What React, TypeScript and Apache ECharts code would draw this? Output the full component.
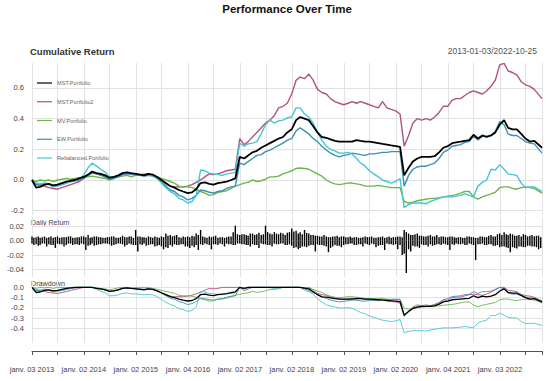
import React, { useEffect, useRef } from "react";
import * as echarts from "echarts";

// ---------- data ----------
const seriesNames = ["MST.Portfolio", "MST.Portfolio2", "MV.Portfolio", "EW.Portfolio", "Rebalanced.Portfolio"];
const seriesColors = ["#000000", "#B0527E", "#6DB54C", "#3C8FB5", "#45C6D6"];

// monthly samples, Jan 2013 .. Oct 2022 (cumulative return)
const mstPortfolio = [
  0, -0.05, -0.045, -0.03, -0.025, -0.035, -0.03, -0.02, -0.01, -0.005, 0.0, 0.01,
  0.02, 0.035, 0.055, 0.045, 0.04, 0.03, 0.015, 0.02, 0.03, 0.045, 0.05, 0.045,
  0.04, 0.035, 0.03, 0.04, 0.035, 0.02, 0.0, -0.02, -0.04, -0.05, -0.065, -0.075,
  -0.085, -0.08, -0.06, -0.02, -0.015, -0.025, -0.03, -0.02, -0.015, -0.01, 0.0, 0.01,
  0.15, 0.14, 0.16, 0.18, 0.19, 0.21, 0.225, 0.24, 0.255, 0.27, 0.28, 0.31,
  0.33, 0.39, 0.41, 0.40, 0.39, 0.35, 0.31, 0.28, 0.275, 0.265, 0.255, 0.25,
  0.25, 0.25, 0.25, 0.26, 0.255, 0.25, 0.25, 0.245, 0.24, 0.235, 0.23, 0.225,
  0.22, 0.215, 0.03, 0.08, 0.12, 0.14, 0.15, 0.15, 0.15, 0.155, 0.18, 0.21,
  0.22, 0.24, 0.245, 0.25, 0.255, 0.26, 0.295, 0.27, 0.29, 0.28, 0.29, 0.31,
  0.36, 0.39, 0.34, 0.33, 0.33, 0.3, 0.27, 0.25, 0.255, 0.21,
];
const mstPortfolio2 = [
  0, -0.03, -0.035, -0.04, -0.05, -0.055, -0.06, -0.05, -0.04, -0.03, -0.02, -0.01,
  0.01, 0.03, 0.05, 0.04, 0.035, 0.025, 0.01, 0.015, 0.025, 0.04, 0.045, 0.04,
  0.035, 0.03, 0.03, 0.035, 0.03, 0.015, -0.005, -0.025, -0.04, -0.045, -0.045, -0.045,
  -0.04, -0.03, -0.015, 0.0, 0.02, 0.04, 0.035, 0.04, 0.05, 0.06, 0.065, 0.07,
  0.27, 0.23, 0.25, 0.28, 0.31, 0.34, 0.37, 0.39, 0.42, 0.47, 0.48, 0.5,
  0.56, 0.65, 0.67, 0.66, 0.69, 0.65, 0.59, 0.57, 0.56, 0.53, 0.51, 0.5,
  0.49, 0.5, 0.51, 0.5, 0.51, 0.5, 0.49, 0.48, 0.47, 0.51, 0.47, 0.46,
  0.45, 0.43, 0.22, 0.29, 0.37, 0.4, 0.39, 0.4, 0.39, 0.41, 0.44, 0.48,
  0.48, 0.52, 0.53, 0.53, 0.55, 0.57, 0.58, 0.57, 0.56, 0.58, 0.61, 0.65,
  0.75, 0.76, 0.71, 0.7, 0.685, 0.64, 0.62, 0.61, 0.59, 0.53,
];
const mvPortfolio = [
  0, -0.01, 0.0, -0.005, 0.0, -0.01, 0.0, 0.005, 0.01, 0.005, 0.01, 0.015,
  0.02, 0.02, 0.025, 0.02, 0.015, 0.01, 0.0, 0.01, 0.02, 0.025, 0.03, 0.02,
  0.03, 0.035, 0.04, 0.04, 0.03, 0.02, 0.01, 0.0, -0.01, -0.02, -0.04, -0.045,
  -0.045, -0.05, -0.06, -0.075, -0.085, -0.1, -0.095, -0.08, -0.075, -0.07, -0.055, -0.04,
  -0.03, -0.02, -0.015, 0.0, -0.01, -0.005, 0.005, 0.02, 0.02, 0.025, 0.04, 0.05,
  0.06, 0.075, 0.078, 0.075, 0.07, 0.055, 0.04, 0.025, 0.0, -0.015, -0.025, -0.03,
  -0.025, -0.02, -0.02, -0.025, -0.03, -0.04, -0.04, -0.04, -0.035, -0.04, -0.045, -0.05,
  -0.05, -0.05, -0.14, -0.15, -0.145, -0.135, -0.13, -0.125, -0.12, -0.12, -0.115, -0.11,
  -0.105, -0.1, -0.095, -0.085, -0.075, -0.075, -0.11, -0.125, -0.11, -0.1, -0.09, -0.08,
  -0.05, -0.045, -0.045, -0.055, -0.06, -0.05, -0.045, -0.05, -0.055, -0.085,
];
const ewPortfolio = [
  0, -0.03, -0.03, -0.02, -0.025, -0.04, -0.035, -0.03, -0.02, -0.01, -0.005, 0.0,
  0.01, 0.03, 0.045, 0.04, 0.03, 0.02, 0.005, 0.01, 0.02, 0.035, 0.04, 0.035,
  0.035, 0.03, 0.025, 0.03, 0.025, 0.01, -0.015, -0.04, -0.065, -0.075, -0.1, -0.11,
  -0.13, -0.12, -0.1, -0.065, -0.07, -0.08, -0.085, -0.075, -0.07, -0.055, -0.045, -0.04,
  0.11, 0.10, 0.12, 0.14, 0.16, 0.165, 0.185, 0.195, 0.21, 0.225, 0.24, 0.26,
  0.27, 0.32, 0.34, 0.32, 0.3, 0.27, 0.25, 0.22, 0.195, 0.175, 0.16, 0.15,
  0.16, 0.165, 0.175, 0.17, 0.165, 0.16, 0.17, 0.17, 0.175, 0.18, 0.18, 0.185,
  0.185, 0.185, -0.04, 0.03, 0.07, 0.085, 0.09, 0.09, 0.1, 0.11, 0.14, 0.18,
  0.195, 0.22, 0.225, 0.23, 0.245, 0.25, 0.285, 0.26, 0.285, 0.285, 0.29, 0.315,
  0.38, 0.36, 0.3, 0.29, 0.29, 0.27, 0.25, 0.24, 0.235, 0.175,
];
const rebalancedPortfolio = [
  0, -0.02, -0.025, -0.02, -0.03, -0.045, -0.04, -0.03, -0.02, -0.01, 0.0, 0.005,
  0.03, 0.08, 0.11, 0.09, 0.07, 0.05, 0.02, 0.02, 0.03, 0.045, 0.05, 0.04,
  0.04, 0.035, 0.03, 0.035, 0.03, 0.01, -0.02, -0.05, -0.075, -0.09, -0.12, -0.13,
  -0.15, -0.14, -0.1, 0.065, 0.06, 0.045, 0.04, 0.035, 0.03, 0.04, 0.045, 0.05,
  0.24, 0.22, 0.235, 0.24, 0.25, 0.3, 0.36, 0.39, 0.37, 0.385, 0.39, 0.405,
  0.41, 0.47, 0.47, 0.43, 0.41, 0.37, 0.31, 0.26, 0.22, 0.2, 0.19, 0.175,
  0.175, 0.18, 0.17, 0.14, 0.11, 0.09, 0.06, 0.04, 0.02, 0.0, -0.01, -0.02,
  -0.01, 0.01, -0.18, -0.16, -0.15, -0.15, -0.15, -0.155, -0.14, -0.13, -0.12, -0.11,
  -0.11, -0.11, -0.105, -0.1, -0.09, -0.1, -0.11, -0.04, -0.015, 0.0, 0.07, 0.065,
  0.1, 0.07, 0.04, 0.035, 0.03, -0.02, -0.05, -0.045, -0.045, -0.075,
];

// MST.Portfolio daily returns: largest gain / loss in each half-month
const upFirstHalf = [
  0.006, 0.005, 0.004, 0.006, 0.005, 0.004, 0.006, 0.005, 0.005, 0.006, 0.004, 0.005,
  0.006, 0.008, 0.005, 0.006, 0.005, 0.004, 0.005, 0.006, 0.004, 0.007, 0.005, 0.006,
  0.015, 0.006, 0.005, 0.006, 0.004, 0.005, 0.006, 0.01, 0.008, 0.007, 0.005, 0.006,
  0.006, 0.007, 0.01, 0.015, 0.005, 0.006, 0.006, 0.004, 0.005, 0.005, 0.006, 0.021,
  0.008, 0.009, 0.007, 0.01, 0.009, 0.008, 0.021, 0.01, 0.012, 0.009, 0.01, 0.011,
  0.017, 0.014, 0.012, 0.015, 0.01, 0.008, 0.007, 0.006, 0.006, 0.005, 0.006, 0.005,
  0.006, 0.005, 0.004, 0.005, 0.004, 0.006, 0.005, 0.004, 0.005, 0.006, 0.005, 0.004,
  0.005, 0.006, 0.015, 0.01, 0.008, 0.01, 0.007, 0.006, 0.008, 0.006, 0.005, 0.006,
  0.005, 0.006, 0.004, 0.005, 0.004, 0.006, 0.005, 0.004, 0.006, 0.005, 0.008, 0.006,
  0.01, 0.012, 0.008, 0.009, 0.007, 0.006, 0.008, 0.007, 0.006, 0.007,
];
const downFirstHalf = [
  -0.004, -0.005, -0.006, -0.004, -0.005, -0.006, -0.004, -0.005, -0.006, -0.004, -0.005, -0.006,
  -0.005, -0.007, -0.004, -0.006, -0.005, -0.004, -0.005, -0.006, -0.004, -0.005, -0.006, -0.005,
  -0.006, -0.005, -0.004, -0.006, -0.005, -0.007, -0.008, -0.009, -0.006, -0.005, -0.006, -0.005,
  -0.008, -0.007, -0.006, -0.005, -0.004, -0.006, -0.005, -0.006, -0.005, -0.004, -0.005, -0.006,
  -0.004, -0.005, -0.006, -0.005, -0.006, -0.004, -0.005, -0.006, -0.004, -0.005, -0.004, -0.006,
  -0.007, -0.009, -0.01, -0.008, -0.007, -0.006, -0.005, -0.006, -0.008, -0.01, -0.006, -0.007,
  -0.006, -0.005, -0.004, -0.006, -0.005, -0.004, -0.006, -0.005, -0.007, -0.006, -0.004, -0.005,
  -0.005, -0.006, -0.018, -0.012, -0.007, -0.008, -0.005, -0.006, -0.005, -0.006, -0.005, -0.004,
  -0.006, -0.005, -0.004, -0.005, -0.006, -0.004, -0.006, -0.005, -0.004, -0.006, -0.005, -0.007,
  -0.009, -0.008, -0.01, -0.009, -0.011, -0.008, -0.009, -0.007, -0.008, -0.012,
];
const upSecondHalf = [
  0.004, 0.006, 0.005, 0.004, 0.006, 0.005, 0.004, 0.005, 0.006, 0.004, 0.005, 0.006,
  0.005, 0.004, 0.006, 0.005, 0.004, 0.005, 0.006, 0.004, 0.005, 0.005, 0.006, 0.004,
  0.006, 0.005, 0.004, 0.005, 0.006, 0.004, 0.005, 0.007, 0.006, 0.008, 0.004, 0.005,
  0.005, 0.006, 0.008, 0.006, 0.004, 0.005, 0.007, 0.005, 0.004, 0.006, 0.012, 0.009,
  0.009, 0.008, 0.01, 0.008, 0.011, 0.009, 0.012, 0.009, 0.01, 0.011, 0.008, 0.012,
  0.013, 0.01, 0.009, 0.011, 0.008, 0.007, 0.006, 0.008, 0.005, 0.006, 0.007, 0.006,
  0.005, 0.006, 0.005, 0.004, 0.005, 0.005, 0.006, 0.004, 0.005, 0.004, 0.006, 0.005,
  0.006, 0.005, 0.012, 0.008, 0.009, 0.007, 0.006, 0.007, 0.006, 0.008, 0.006, 0.005,
  0.006, 0.005, 0.005, 0.004, 0.006, 0.005, 0.004, 0.006, 0.005, 0.007, 0.006, 0.009,
  0.008, 0.009, 0.01, 0.007, 0.008, 0.009, 0.006, 0.008, 0.007, 0.005,
];
const downSecondHalf = [
  -0.006, -0.007, -0.004, -0.008, -0.006, -0.01, -0.005, -0.008, -0.004, -0.006, -0.005, -0.004,
  -0.013, -0.006, -0.007, -0.005, -0.004, -0.004, -0.007, -0.005, -0.004, -0.008, -0.004, -0.006,
  -0.015, -0.006, -0.007, -0.005, -0.008, -0.006, -0.012, -0.01, -0.008, -0.006, -0.005, -0.008,
  -0.01, -0.009, -0.013, -0.006, -0.005, -0.012, -0.005, -0.004, -0.008, -0.005, -0.006, -0.004,
  -0.005, -0.006, -0.008, -0.006, -0.01, -0.005, -0.006, -0.008, -0.005, -0.004, -0.006, -0.005,
  -0.01, -0.012, -0.008, -0.009, -0.006, -0.015, -0.006, -0.007, -0.016, -0.008, -0.007, -0.009,
  -0.005, -0.004, -0.006, -0.005, -0.008, -0.005, -0.004, -0.009, -0.006, -0.013, -0.005, -0.006,
  -0.012, -0.02, -0.045, -0.015, -0.008, -0.01, -0.006, -0.008, -0.007, -0.005, -0.006, -0.005,
  -0.013, -0.006, -0.005, -0.004, -0.006, -0.005, -0.027, -0.005, -0.006, -0.005, -0.007, -0.006,
  -0.008, -0.009, -0.016, -0.01, -0.008, -0.009, -0.007, -0.008, -0.009, -0.01,
];

const startDate = "2013-01-03";
const endDate = "2022-10-25";
const yearTickDates = [
  "2013-01-03", "2014-01-02", "2015-01-02", "2016-01-04", "2017-01-02",
  "2018-01-02", "2019-01-02", "2020-01-02", "2021-01-04", "2022-01-03",
];
const yearTickLabels = [
  "janv. 03 2013", "janv. 02 2014", "janv. 02 2015", "janv. 04 2016", "janv. 02 2017",
  "janv. 02 2018", "janv. 02 2019", "janv. 02 2020", "janv. 04 2021", "janv. 03 2022",
];
const midTickDates = [
  "2013-07-01", "2014-07-01", "2015-07-01", "2016-07-01", "2017-07-03",
  "2018-07-02", "2019-07-01", "2020-07-01", "2021-07-01", "2022-07-01", "2022-10-25",
];
const cumTicks = [-0.2, 0, 0.2, 0.4, 0.6];
const dailyTicks = [-0.04, -0.02, 0, 0.02];
const ddTicks = [-0.4, -0.3, -0.2, -0.1, 0];

// ---------- helpers ----------
const ts = (s: string) => {
  const [y, m, d] = s.split("-").map(Number);
  return Date.UTC(y, m - 1, d);
};
function sampleDates(n: number): number[] {
  const out: number[] = [];
  for (let i = 0; i < n; i++) {
    if (i === 0) out.push(ts(startDate));
    else if (i === n - 1) out.push(ts(endDate));
    else out.push(Date.UTC(2013 + Math.floor(i / 12), i % 12, 1));
  }
  return out;
}
function halfMonthDates(n: number, second: boolean): number[] {
  const out: number[] = [];
  for (let i = 0; i < n; i++) {
    if (!second && i === 0) out.push(ts(startDate));
    else out.push(Date.UTC(2013 + Math.floor(i / 12), i % 12, second ? 16 : 1));
  }
  return out;
}
function drawdown(cum: number[]): number[] {
  let peak = 1;
  return cum.map((v) => {
    const w = 1 + v;
    if (w > peak) peak = w;
    return w / peak - 1;
  });
}

const FONT = "'Liberation Sans', Arial, sans-serif";
const GRID_COLOR = "#e2e2e2";
const LABEL_COLOR = "#444";

export default function App() {
  const ref = useRef<HTMLDivElement>(null);

  useEffect(() => {
    document.body.style.margin = "0";
    const chart = echarts.init(ref.current!, null, { renderer: "svg" });

    const cumSeries = [mstPortfolio, mstPortfolio2, mvPortfolio, ewPortfolio, rebalancedPortfolio];
    const dates = sampleDates(mstPortfolio.length);
    const pairs = (arr: number[], d: number[] = dates) => arr.map((v, i) => [d[i], v]);
    const xMin = ts(startDate);
    const xMax = ts(endDate);
    const yearTs = yearTickDates.map(ts);
    const allTicks = [...yearTs, ...midTickDates.map(ts)].sort((a, b) => a - b);
    const firstHalf = halfMonthDates(upFirstHalf.length, false);
    const secondHalf = halfMonthDates(upSecondHalf.length, true);

    const xAxes = [0, 1, 2].map((i) => ({
      type: "value",
      gridIndex: i,
      min: xMin,
      max: xMax,
      offset: i === 2 ? 8 : 0,
      axisLine: { show: i === 2, onZero: false, lineStyle: { color: "#555", width: 1 } },
      axisTick: { show: i === 2, customValues: allTicks, length: 4, lineStyle: { color: "#555" } },
      axisLabel: {
        show: i === 2,
        customValues: yearTs,
        margin: 14,
        fontSize: 7.5,
        color: LABEL_COLOR,
        fontFamily: FONT,
        hideOverlap: false,
        formatter: (v: number) => {
          const k = yearTs.indexOf(v);
          return k >= 0 ? yearTickLabels[k] : "";
        },
      },
      splitLine: { show: true, lineStyle: { color: GRID_COLOR, width: 1 } },
    }));

    const yAxis = (i: number, min: number, max: number, ticks: number[], dec: number) => ({
      type: "value",
      gridIndex: i,
      min,
      max,
      axisLine: { show: false },
      axisTick: { show: false, customValues: ticks },
      axisLabel: {
        customValues: ticks,
        margin: 8,
        fontSize: 7.5,
        color: LABEL_COLOR,
        fontFamily: FONT,
        formatter: (v: number) => v.toFixed(dec),
      },
      splitLine: { show: true, lineStyle: { color: GRID_COLOR, width: 1 } },
    });

    const lineSeries: any[] = [];
    cumSeries.forEach((arr, k) => {
      lineSeries.push({
        name: seriesNames[k],
        type: "line",
        xAxisIndex: 0,
        yAxisIndex: 0,
        data: pairs(arr),
        symbol: "none",
        color: seriesColors[k],
        lineStyle: { width: k === 0 ? 1.8 : 1.4, color: seriesColors[k] },
        z: k === 0 ? 5 : 3,
      });
    });
    cumSeries.forEach((arr, k) => {
      lineSeries.push({
        name: seriesNames[k],
        type: "line",
        xAxisIndex: 2,
        yAxisIndex: 2,
        data: pairs(drawdown(arr)),
        symbol: "none",
        color: seriesColors[k],
        lineStyle: { width: k === 0 ? 1.3 : 0.9, color: seriesColors[k] },
        z: k === 0 ? 5 : 3,
      });
    });

    const dailyBar = (name: string, arr: number[], d: number[]) => ({
      name,
      type: "bar",
      xAxisIndex: 1,
      yAxisIndex: 1,
      barWidth: 1.4,
      barGap: "-100%",
      color: "#000",
      itemStyle: { color: "#000" },
      data: pairs(arr, d),
    });

    const text = (t: string, x: number, y: number, size: number, color: string, align: string, bold = false) => ({
      type: "text",
      x,
      y,
      style: {
        text: t,
        fill: color,
        fontSize: size,
        fontWeight: bold ? "bold" : "normal",
        fontFamily: FONT,
        align,
        verticalAlign: "middle",
        textAlign: align,
        textVerticalAlign: "middle",
      },
    });

    const option: any = {
      animation: false,
      backgroundColor: "#ffffff",
      textStyle: { fontFamily: FONT },
      grid: [
        { left: 32, right: 8, top: 63, height: 152 },
        { left: 32, right: 8, top: 217, height: 60 },
        { left: 32, right: 8, top: 280, height: 63 },
      ],
      xAxis: xAxes,
      yAxis: [
        yAxis(0, -0.228, 0.762, cumTicks, 1),
        yAxis(1, -0.0506, 0.0331, dailyTicks, 2),
        yAxis(2, -0.542, 0.072, ddTicks, 1),
      ],
      legend: {
        orient: "vertical",
        left: 37,
        top: 79,
        icon: "rect",
        itemWidth: 15,
        itemHeight: 1.2,
        itemGap: 10.75,
        padding: 0,
        selectedMode: false,
        data: seriesNames,
        textStyle: { fontSize: 5.6, color: "#666", fontFamily: FONT, lineHeight: 8 },
      },
      graphic: [
        text("Performance Over Time", 287, 9, 11.5, "#111", "center", true),
        text("Cumulative Return", 30, 51, 9.5, "#333", "left", true),
        text(startDate + "/" + endDate, 537, 51, 8.5, "#555", "right"),
        text("Daily Return", 31, 222, 7, "#444", "left"),
        text("Drawdown", 31, 283, 7.2, "#444", "left"),
      ],
      series: [
        ...lineSeries,
        dailyBar("Daily Return up 1", upFirstHalf, firstHalf),
        dailyBar("Daily Return down 1", downFirstHalf, firstHalf),
        dailyBar("Daily Return up 2", upSecondHalf, secondHalf),
        dailyBar("Daily Return down 2", downSecondHalf, secondHalf),
      ],
    };

    chart.setOption(option);
    return () => chart.dispose();
  }, []);

  return <div ref={ref} style={{ width: 550, height: 381 }} />;
}
